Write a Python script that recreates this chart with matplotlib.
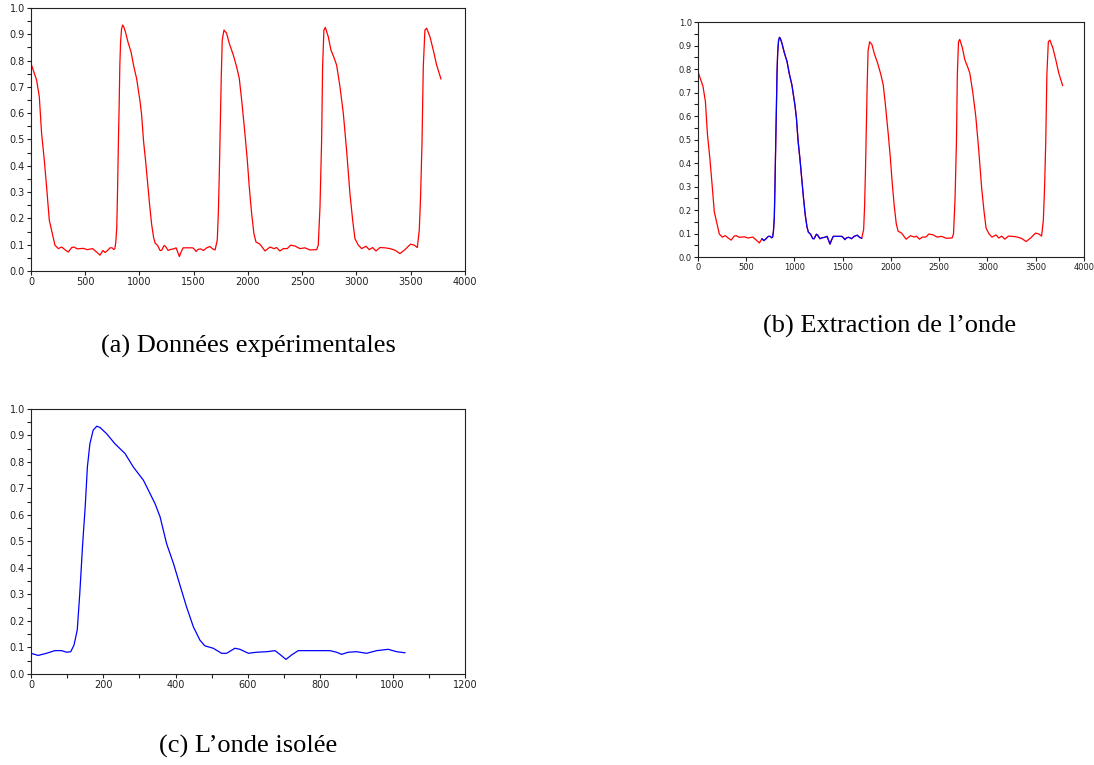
import numpy as np
import matplotlib.pyplot as plt
from matplotlib.ticker import MultipleLocator

# signal: sample index, amplitude
signal_x = [0, 52, 77, 98, 123, 144, 169, 190, 221, 252, 283, 313, 344, 375, 396,
            427, 482, 519, 568, 605, 636, 663,
            # isolated wave (panel c), shifted by 663
            683, 706, 729, 748, 762, 773, 782, 791, 798, 806, 813, 819, 826, 835,
            845, 854, 872, 895, 923, 946, 974, 1006, 1020, 1038, 1057, 1075, 1093,
            1112, 1130, 1144, 1167, 1190, 1204, 1227, 1241, 1264, 1287, 1315, 1338,
            1353, 1368, 1384, 1402, 1434, 1490, 1508, 1522, 1540, 1563, 1591, 1619,
            1651, 1674, 1697,
            1717, 1727, 1736, 1745, 1754, 1763, 1779, 1803, 1828, 1865, 1895, 1920,
            1942, 1972, 1994, 2012, 2034, 2055, 2074, 2110, 2157, 2203, 2240, 2264,
            2295, 2326, 2362, 2393, 2433, 2479, 2525, 2571, 2633, 2648, 2664, 2679,
            2688, 2700, 2713, 2740, 2765, 2796, 2817, 2848, 2879, 2909, 2940, 2965,
            2986, 3017, 3048, 3088, 3118, 3149, 3180, 3217, 3263, 3309, 3355, 3401,
            3447, 3499, 3533, 3561, 3579, 3591, 3604, 3616, 3631, 3647, 3677, 3708,
            3739, 3779]
signal_y = [0.789, 0.726, 0.662, 0.523, 0.421, 0.32, 0.193, 0.155, 0.098, 0.085,
            0.091, 0.081, 0.072, 0.089, 0.091, 0.084, 0.086, 0.081, 0.085, 0.072,
            0.06, 0.078,
            0.070, 0.078, 0.088, 0.088, 0.082, 0.084, 0.109, 0.166, 0.304, 0.492,
            0.631, 0.781, 0.869, 0.92, 0.935, 0.93, 0.907, 0.869, 0.832, 0.781,
            0.731, 0.643, 0.593, 0.492, 0.417, 0.335, 0.254, 0.178, 0.128, 0.106,
            0.097, 0.078, 0.078, 0.097, 0.093, 0.078, 0.082, 0.084, 0.088, 0.072,
            0.055, 0.072, 0.088, 0.088, 0.088, 0.082, 0.074, 0.082, 0.084, 0.078,
            0.088, 0.093, 0.084, 0.080,
            0.117, 0.218, 0.37, 0.561, 0.739, 0.878, 0.916, 0.904, 0.865, 0.821,
            0.777, 0.732, 0.65, 0.523, 0.421, 0.32, 0.218, 0.142, 0.11, 0.102,
            0.076, 0.091, 0.085, 0.089, 0.076, 0.085, 0.085, 0.098, 0.095, 0.085,
            0.088, 0.08, 0.081, 0.098, 0.244, 0.497, 0.777, 0.916, 0.926, 0.891,
            0.84, 0.808, 0.783, 0.701, 0.599, 0.459, 0.294, 0.193, 0.123, 0.098,
            0.085, 0.094, 0.081, 0.089, 0.076, 0.089, 0.088, 0.085, 0.079, 0.066,
            0.081, 0.102, 0.098, 0.089, 0.155, 0.282, 0.485, 0.777, 0.916, 0.923,
            0.891, 0.84, 0.783, 0.73]

wave_start = 663
wave_end = 1697

captions = ["(a) Données expérimentales", "(b) Extraction de l\u2019onde",
            "(c) L\u2019onde isolée"]

x = np.array(signal_x)
y = np.array(signal_y)
in_wave = (x >= wave_start) & (x <= wave_end)


def style_axes(ax, xmax, xmajor, xminor=None, labelsize=7):
    ax.set_xlim(0, xmax)
    ax.set_ylim(0, 1.0)
    ax.xaxis.set_major_locator(MultipleLocator(xmajor))
    if xminor:
        ax.xaxis.set_minor_locator(MultipleLocator(xminor))
    ax.yaxis.set_major_locator(MultipleLocator(0.1))
    ax.yaxis.set_minor_locator(MultipleLocator(0.05))
    ax.yaxis.set_major_formatter(plt.FuncFormatter(lambda v, p: "%.1f" % v))
    ax.tick_params(which="both", direction="out", length=3, width=0.8,
                   labelsize=labelsize, pad=1.5, colors="#222222")
    for s in ax.spines.values():
        s.set_linewidth(0.8)
        s.set_color("#222222")


fig = plt.figure(figsize=(10.94, 7.65), dpi=100)

ax_a = fig.add_axes([0.0283, 0.6458, 0.3967, 0.3438])
ax_a.plot(x, y, color="#ff0000", lw=0.9)
style_axes(ax_a, 4000, 500)

ax_b = fig.add_axes([0.638, 0.664, 0.3528, 0.3072])
ax_b.plot(x, y, color="#ff0000", lw=0.9)
ax_b.plot(x[in_wave], y[in_wave], color="#0000ff", lw=0.9)
style_axes(ax_b, 4000, 500, labelsize=6)

ax_c = fig.add_axes([0.0283, 0.119, 0.3967, 0.3464])
ax_c.plot(x[in_wave] - wave_start, y[in_wave], color="#0000ff", lw=0.9)
style_axes(ax_c, 1200, 200, 100)

serif = ["Liberation Serif", "DejaVu Serif"]
fig.text(248 / 1094, 1 - 346 / 765, captions[0], ha="center", va="center",
         fontsize=19, family=serif)
fig.text(890 / 1094, 1 - 326 / 765, captions[1], ha="center", va="center",
         fontsize=19, family=serif)
fig.text(248 / 1094, 1 - 746 / 765, captions[2], ha="center", va="center",
         fontsize=19, family=serif)

fig.savefig("out.png", dpi=100)
